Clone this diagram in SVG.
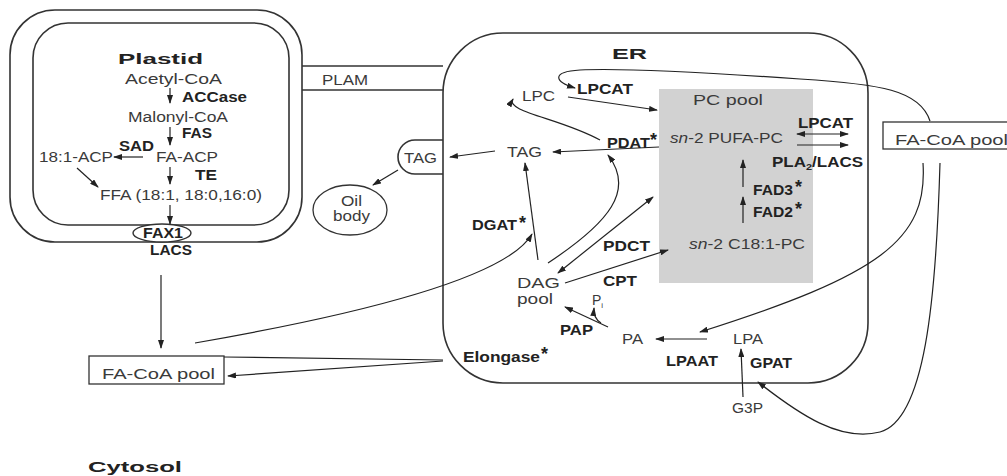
<svg xmlns="http://www.w3.org/2000/svg" width="1007" height="476" viewBox="0 0 1007 476">
<style>
text{font-family:"Liberation Sans",Arial,sans-serif;fill:#3a3a3a;font-size:14px}
.b{font-weight:bold;fill:#222}
.mem{fill:none;stroke:#333;stroke-width:1.6}
.ln{fill:none;stroke:#222;stroke-width:1.2}
.ar{fill:none;stroke:#222;stroke-width:1.2;marker-end:url(#ah)}
.ar2{fill:none;stroke:#222;stroke-width:1.2;marker-end:url(#ah);marker-start:url(#ah)}
.st{font-weight:bold;font-size:18px;fill:#222}
</style>
<defs>
<marker id="ah" markerWidth="9" markerHeight="6" refX="8" refY="3" orient="auto-start-reverse" markerUnits="userSpaceOnUse">
<path d="M0,0 L9,3 L0,6 Z" fill="#222"/>
</marker>
</defs>
<rect width="1007" height="476" fill="#fff"/>

<g id="plastid">
<rect class="mem" x="10" y="10" width="292" height="232" rx="45"/>
<rect class="mem" x="33" y="23" width="256" height="202" rx="35"/>
<text class="b" x="118" y="64" font-size="24" textLength="85" lengthAdjust="spacingAndGlyphs">Plastid</text>
</g>

<g id="acetylcoa"><text x="125" y="84" font-size="15" textLength="97" lengthAdjust="spacingAndGlyphs">Acetyl-CoA</text></g>
<g id="accase"><text class="b" x="182" y="102" textLength="65" lengthAdjust="spacingAndGlyphs">ACCase</text></g>
<g id="malonylcoa"><text x="128" y="122" font-size="15" textLength="100" lengthAdjust="spacingAndGlyphs">Malonyl-CoA</text></g>
<g id="fas"><text class="b" x="182" y="138" textLength="30" lengthAdjust="spacingAndGlyphs">FAS</text></g>
<g id="sad"><text class="b" x="119" y="151" textLength="35" lengthAdjust="spacingAndGlyphs">SAD</text></g>
<g id="acp181"><text x="39" y="162" font-size="15" textLength="74" lengthAdjust="spacingAndGlyphs">18:1-ACP</text></g>
<g id="faacp"><text x="156" y="162" font-size="15" textLength="62" lengthAdjust="spacingAndGlyphs">FA-ACP</text></g>
<g id="te"><text class="b" x="195" y="180" textLength="22" lengthAdjust="spacingAndGlyphs">TE</text></g>
<g id="ffa"><text x="100" y="200" font-size="15" textLength="162" lengthAdjust="spacingAndGlyphs">FFA (18:1, 18:0,16:0)</text></g>
<g id="fax1">
<ellipse cx="162" cy="233" rx="29" ry="9" fill="#fff" stroke="#333" stroke-width="1.4"/>
<text class="b" x="143" y="238" font-size="13" textLength="40" lengthAdjust="spacingAndGlyphs">FAX1</text>
</g>
<g id="lacs"><text class="b" x="150" y="255" textLength="42" lengthAdjust="spacingAndGlyphs">LACS</text></g>

<g id="plam">
<line class="mem" x1="302" y1="66" x2="443" y2="66"/>
<line class="mem" x1="302" y1="90" x2="443" y2="90"/>
<text x="322" y="85" textLength="46" lengthAdjust="spacingAndGlyphs">PLAM</text>
</g>

<g id="er">
<rect class="mem" x="443" y="33" width="425" height="350" rx="60"/>
<path class="mem" d="M443,140 H415 A17,17 0 0 0 415,174 H443"/>
<text class="b" x="612" y="59" font-size="22" textLength="35" lengthAdjust="spacingAndGlyphs">ER</text>
</g>
<g id="tag-bump"><text x="404" y="163" font-size="15" textLength="33" lengthAdjust="spacingAndGlyphs">TAG</text></g>
<g id="oilbody">
<ellipse cx="350" cy="210" rx="37" ry="25" fill="none" stroke="#333" stroke-width="1.3"/>
<text x="341" y="206" textLength="21" lengthAdjust="spacingAndGlyphs">Oil</text>
<text x="333" y="221" textLength="37" lengthAdjust="spacingAndGlyphs">body</text>
</g>

<g id="pcpool">
<rect x="659" y="89" width="154" height="194" fill="#d2d2d2"/>
<text x="693" y="105" font-size="16" textLength="70" lengthAdjust="spacingAndGlyphs">PC pool</text>
<text x="670" y="143" font-size="15" textLength="113" lengthAdjust="spacingAndGlyphs"><tspan font-style="italic">sn</tspan>-2 PUFA-PC</text>
<text x="689" y="249" font-size="15" textLength="116" lengthAdjust="spacingAndGlyphs"><tspan font-style="italic">sn</tspan>-2 C18:1-PC</text>
</g>
<g id="fad3"><text class="b" x="753" y="195" textLength="40" lengthAdjust="spacingAndGlyphs">FAD3</text><text class="st" x="795" y="193">*</text></g>
<g id="fad2"><text class="b" x="753" y="217" textLength="40" lengthAdjust="spacingAndGlyphs">FAD2</text><text class="st" x="795" y="215">*</text></g>

<g id="lpcat1"><text class="b" x="577" y="94" textLength="56" lengthAdjust="spacingAndGlyphs">LPCAT</text></g>
<g id="lpc"><text x="522" y="101" font-size="15" textLength="33" lengthAdjust="spacingAndGlyphs">LPC</text></g>
<g id="pdat"><text class="b" x="607" y="148" textLength="43" lengthAdjust="spacingAndGlyphs">PDAT</text><text class="st" x="650" y="146">*</text></g>
<g id="tag-er"><text x="507" y="157" font-size="15" textLength="35" lengthAdjust="spacingAndGlyphs">TAG</text></g>
<g id="lpcat2"><text class="b" x="798" y="128" textLength="55" lengthAdjust="spacingAndGlyphs">LPCAT</text></g>
<g id="pla2"><text class="b" x="772" y="167" textLength="91" lengthAdjust="spacingAndGlyphs">PLA<tspan font-size="9" dy="3">2</tspan><tspan dy="-3">/LACS</tspan></text></g>
<g id="dgat"><text class="b" x="472" y="230" textLength="45" lengthAdjust="spacingAndGlyphs">DGAT</text><text class="st" x="519" y="229">*</text></g>
<g id="pdct"><text class="b" x="603" y="251" textLength="47" lengthAdjust="spacingAndGlyphs">PDCT</text></g>
<g id="cpt"><text class="b" x="603" y="286" textLength="34" lengthAdjust="spacingAndGlyphs">CPT</text></g>
<g id="dag">
<text x="517" y="288" font-size="17" textLength="43" lengthAdjust="spacingAndGlyphs">DAG</text>
<text x="517" y="304" font-size="17" textLength="36" lengthAdjust="spacingAndGlyphs">pool</text>
</g>
<g id="pi"><text x="592" y="305" font-size="15">P<tspan font-size="8" dy="3">i</tspan></text></g>
<g id="pap"><text class="b" x="560" y="335" textLength="33" lengthAdjust="spacingAndGlyphs">PAP</text></g>
<g id="pa"><text x="622" y="344" font-size="15" textLength="21" lengthAdjust="spacingAndGlyphs">PA</text></g>
<g id="lpa"><text x="733" y="344" font-size="15" textLength="30" lengthAdjust="spacingAndGlyphs">LPA</text></g>
<g id="lpaat"><text class="b" x="666" y="366" textLength="52" lengthAdjust="spacingAndGlyphs">LPAAT</text></g>
<g id="gpat"><text class="b" x="750" y="368" textLength="42" lengthAdjust="spacingAndGlyphs">GPAT</text></g>
<g id="g3p"><text x="732" y="413" textLength="31" lengthAdjust="spacingAndGlyphs">G3P</text></g>
<g id="elongase"><text class="b" x="463" y="362" textLength="77" lengthAdjust="spacingAndGlyphs">Elongase</text><text class="st" x="541" y="360">*</text></g>

<g id="facoa-right">
<rect x="883" y="122" width="130" height="27" fill="#fff" stroke="#333" stroke-width="1.3"/>
<text x="895" y="145" font-size="15" textLength="113" lengthAdjust="spacingAndGlyphs">FA-CoA pool</text>
</g>
<g id="facoa-left">
<rect x="89" y="356" width="135" height="28" fill="#fff" stroke="#333" stroke-width="1.3"/>
<text x="102" y="379" font-size="15" textLength="113" lengthAdjust="spacingAndGlyphs">FA-CoA pool</text>
</g>
<g id="cytosol"><text class="b" x="88" y="472" font-size="20" textLength="94" lengthAdjust="spacingAndGlyphs">Cytosol</text></g>

<g id="connectors">
<path class="ar" d="M170,88 L170,103"/>
<path class="ar" d="M170,127 L170,145"/>
<path class="ar" d="M143,157 L114,157"/>
<path class="ar" d="M170,167 L170,184"/>
<path class="ar" d="M77,168 L98,187"/>
<path class="ar" d="M170,205 L170,224"/>
<path class="ar" d="M161,275 L161,348"/>
<path class="ar" d="M195,343 Q500,290 532,234"/>
<path class="ln" d="M443,360 L224,357"/>
<path class="ar" d="M443,361 L228,376"/>
<path class="ar" d="M495,151 L450,157"/>
<path class="ar" d="M398,170 L373,185"/>
<path class="ar" d="M930,121 C920,90 880,84 800,79 C700,72 620,68 580,70 C550,72 555,82 575,88"/>
<path class="ar" d="M568,97 L657,110"/>
<path class="ar" d="M600,140 C560,118 505,112 513,99"/>
<path class="ar" d="M659,147 L553,152"/>
<path class="ar" d="M538,260 L525,163"/>
<path class="ar" d="M548,263 C610,222 635,190 608,155"/>
<path class="ar2" d="M558,273 L653,197"/>
<path class="ar" d="M565,283 L668,250"/>
<path class="ar" d="M608,327 L565,307"/>
<path class="ar" d="M601,323 Q593,318 594,308"/>
<path class="ar" d="M707,339 L656,339"/>
<path class="ar" d="M743,397 L741,349"/>
<path class="ar" d="M923,163 C928,240 880,275 700,332"/>
<path class="ar" d="M940,163 C936,300 925,420 880,432 C840,442 800,415 758,382"/>
<path class="ar" d="M743,223 L743,197"/>
<path class="ar" d="M743,187 L743,160"/>
<path class="ar2" d="M797,134 L848,134"/>
<path class="ar" d="M797,145 L848,145"/>
</g>
</svg>
